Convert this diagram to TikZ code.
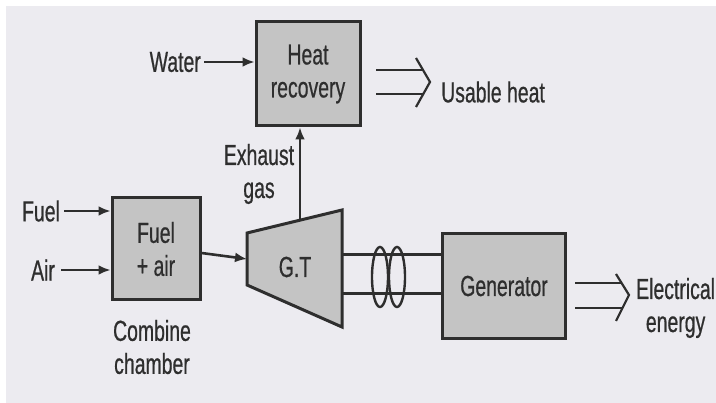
\documentclass[tikz,border=0pt]{standalone}
\usepackage{fontspec}
\setmainfont{Liberation Sans}[FakeStretch=0.67,FakeBold=0.6]
\usetikzlibrary{arrows.meta}
\definecolor{bgc}{HTML}{ECEBF0}
\definecolor{boxc}{HTML}{C4C4C4}
\definecolor{ink}{HTML}{2E2E2E}
\tikzset{
  blk/.style={draw=ink, line width=3pt, fill=boxc, align=center, inner sep=0pt},
  lbl/.style={text=ink, align=center, inner sep=0pt, font=\fontsize{29}{33}\selectfont},
  flow/.style={draw=ink, line width=2.6pt, -{Latex[length=12pt,width=10pt]}},
  dbl/.style={draw=ink, line width=2.6pt},
}
\begin{document}
\begin{tikzpicture}[x=1pt,y=-1pt, every node/.style={font=\fontsize{29}{33}\selectfont}]
\useasboundingbox (0,0) rectangle (716,403);
\fill[white] (0,0) rectangle (716,403);
\fill[bgc] (6,6) rectangle (716,403);

% blocks
\node[blk, minimum width=104pt, minimum height=104pt, text=ink] (hr) at (308,74) {Heat\\recovery};
\node[blk, minimum width=88pt, minimum height=102pt, text=ink] (fa) at (156,249) {Fuel\\+ air};
\node[blk, minimum width=123pt, minimum height=105pt, text=ink] (gen) at (504,286) {Generator};

% gas turbine
\draw[ink, line width=3pt, fill=boxc, line join=miter] (247,233) -- (342,210) -- (342,327) -- (247,285) -- cycle;
\node[lbl] (gt) at (295,267) {G.T};
\coordinate (gtin) at (247,259);
\coordinate (gtout) at (300,221);
\coordinate (sh1) at (342,255);
\coordinate (sh2) at (342,294);

% labels
\node[lbl, anchor=east] (water) at (201,62) {Water};
\node[lbl] (fuel) at (41,211) {Fuel};
\node[lbl] (air) at (43,270) {Air};
\node[lbl] (cc) at (152,347) {Combine\\chamber};
\node[lbl] (ex) at (259,174) {Exhaust\\gas};
\node[lbl, anchor=west] (uh) at (441,92) {Usable heat};
\node[lbl, anchor=west] (ee) at (636,308) {Electrical\\energy};

% flows
\draw[flow] (water.east) ++(3,0) -- (hr.west |- water.east);
\draw[flow] (fuel.east) ++(4,0) -- (fa.west |- fuel.east);
\draw[flow] (air.east) ++(6,0) -- (fa.west |- air.east);
\draw[flow] (fa.east |- gtin) ++(0,-6) -- (gtin);
\draw[flow] (gtout) -- (hr.south -| gtout);

% shaft and coupling
\draw[ink, line width=3pt] (sh1) -- (gen.west |- sh1);
\draw[ink, line width=3pt] (sh2) -- (gen.west |- sh2);
\draw[ink, line width=2.4pt] (380,277) ellipse [x radius=8, y radius=30];
\draw[ink, line width=2.4pt] (397,277) ellipse [x radius=8, y radius=30];

% usable heat double arrow
\coordinate (h1) at (376,70);
\coordinate (h2) at (376,94);
\draw[dbl] (h1) -- (424,70);
\draw[dbl] (h2) -- (424,94);
\draw[dbl, line width=2.2pt, line join=miter] (416,58) -- (430,82) -- (416,107);

% electrical energy double arrow
\draw[dbl] (575,283) -- (622,283);
\draw[dbl] (575,308) -- (622,308);
\draw[dbl, line width=2.2pt, line join=miter] (616,274) -- (629,295) -- (616,321);
\end{tikzpicture}
\end{document}
